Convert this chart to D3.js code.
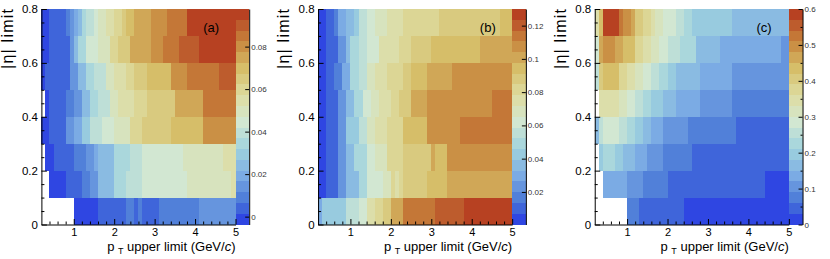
<!DOCTYPE html>
<html>
<head>
<meta charset="utf-8">
<script src="https://cdn.jsdelivr.net/npm/d3@7"></script>
<style>
body { margin: 0; background: #fff; }
text { font-family: "Liberation Sans", Arial, Helvetica, sans-serif; }
</style>
</head>
<body>
<svg id="chart" width="830" height="259"></svg>
<script>
////////////////////////////////////////////////////////////
// DATA
////////////////////////////////////////////////////////////
var etaEdges = [0, 0.1, 0.2, 0.3, 0.4, 0.5, 0.6, 0.7, 0.8];
var xTickLabels = [1, 2, 3, 4, 5];
var yTickLabels = [0, 0.2, 0.4, 0.6, 0.8];
var panelLabels = ["(a)", "(b)", "(c)"];

// z ranges of the three colour bars
var zRangeA = [-0.0037, 0.0977];
var zRangeB = [0.0004, 0.1300];
var zRangeC = [0, 0.6];
var zTicksA = [0, 0.02, 0.04, 0.06, 0.08];
var zTicksB = [0.02, 0.04, 0.06, 0.08, 0.1, 0.12];
var zTicksC = [0, 0.1, 0.2, 0.3, 0.4, 0.5, 0.6];

// cells per eta row (row 0 = 0-0.1): [pT from, pT to, value]
var cellsA = [
  [[1.0,1.6,-0.0012],[1.6,2.3,0.0039],[2.3,2.5,0.0090],[2.5,2.6,0.0039],[2.6,2.7,0.0090],[2.7,3.1,0.0039],[3.1,4.1,0.0090],[4.1,5.0,0.0140]],
  [[0.4,0.8,-0.0012],[0.8,1.2,0.0039],[1.2,1.4,0.0090],[1.4,1.6,0.0140],[1.6,2.0,0.0242],[2.0,2.3,0.0343],[2.3,2.7,0.0394],[2.7,3.8,0.0445],[3.8,4.9,0.0496],[4.9,5.0,0.0546]],
  [[0.3,0.5,-0.0012],[0.5,1.0,0.0039],[1.0,1.3,0.0090],[1.3,1.5,0.0140],[1.5,1.6,0.0191],[1.6,2.0,0.0242],[2.0,2.4,0.0343],[2.4,2.7,0.0394],[2.7,3.7,0.0445],[3.7,4.7,0.0496],[4.7,5.0,0.0546]],
  [[0.2,0.4,-0.0012],[0.4,0.8,0.0039],[0.8,1.0,0.0140],[1.0,1.2,0.0191],[1.2,1.4,0.0293],[1.4,1.7,0.0394],[1.7,2.0,0.0445],[2.0,2.4,0.0496],[2.4,2.7,0.0597],[2.7,3.4,0.0648],[3.4,4.2,0.0699],[4.2,5.0,0.0800]],
  [[0.3,0.4,-0.0012],[0.4,0.8,0.0039],[0.8,1.0,0.0090],[1.0,1.2,0.0140],[1.2,1.4,0.0242],[1.4,1.6,0.0343],[1.6,1.9,0.0394],[1.9,2.1,0.0496],[2.1,2.5,0.0546],[2.5,2.8,0.0597],[2.8,3.5,0.0648],[3.5,4.2,0.0749],[4.2,5.0,0.0851]],
  [[0.2,0.3,-0.0012],[0.3,0.9,0.0039],[0.9,1.1,0.0140],[1.1,1.3,0.0242],[1.3,1.5,0.0343],[1.5,1.8,0.0394],[1.8,2.0,0.0496],[2.0,2.3,0.0546],[2.3,2.5,0.0597],[2.5,2.8,0.0648],[2.8,3.4,0.0699],[3.4,3.8,0.0800],[3.8,4.6,0.0851],[4.6,5.0,0.0902]],
  [[0.2,0.4,-0.0012],[0.4,0.9,0.0039],[0.9,1.0,0.0140],[1.0,1.1,0.0242],[1.1,1.3,0.0343],[1.3,1.6,0.0445],[1.6,1.9,0.0496],[1.9,2.1,0.0597],[2.1,2.4,0.0648],[2.4,2.9,0.0749],[2.9,3.2,0.0800],[3.2,3.6,0.0851],[3.6,4.1,0.0902],[4.1,5.0,0.0952]],
  [[0.2,0.4,-0.0012],[0.4,0.8,0.0039],[0.8,0.9,0.0090],[0.9,1.0,0.0140],[1.0,1.1,0.0191],[1.1,1.2,0.0242],[1.2,1.3,0.0343],[1.3,1.5,0.0394],[1.5,1.6,0.0445],[1.6,1.8,0.0496],[1.8,2.0,0.0546],[2.0,2.2,0.0597],[2.2,2.3,0.0648],[2.3,2.5,0.0699],[2.5,2.9,0.0749],[2.9,3.3,0.0800],[3.3,3.8,0.0851],[3.8,5.0,0.0952]]
];

var cellsB = [
  [[0.2,0.3,0.0296],[0.3,0.9,0.0425],[0.9,1.2,0.0555],[1.2,1.4,0.0620],[1.4,1.6,0.0749],[1.6,1.8,0.0814],[1.8,2.0,0.0879],[2.0,2.3,0.1008],[2.3,3.1,0.1138],[3.1,3.8,0.1203],[3.8,5.0,0.1268]],
  [[0.2,0.4,0.0036],[0.4,0.7,0.0101],[0.7,0.9,0.0231],[0.9,1.2,0.0360],[1.2,1.4,0.0490],[1.4,1.8,0.0620],[1.8,2.0,0.0684],[2.0,2.1,0.0814],[2.1,2.2,0.0749],[2.2,2.3,0.0814],[2.3,2.9,0.0879],[2.9,3.4,0.0944],[3.4,5.0,0.1008]],
  [[0.2,0.4,0.0036],[0.4,0.7,0.0101],[0.7,0.9,0.0231],[0.9,1.1,0.0360],[1.1,1.4,0.0490],[1.4,1.6,0.0620],[1.6,1.9,0.0684],[1.9,2.3,0.0814],[2.3,3.0,0.0879],[3.0,3.1,0.1008],[3.1,3.4,0.0944],[3.4,5.0,0.1073]],
  [[0.2,0.4,0.0036],[0.4,0.7,0.0101],[0.7,0.9,0.0231],[0.9,1.2,0.0425],[1.2,1.4,0.0555],[1.4,1.6,0.0684],[1.6,1.9,0.0749],[1.9,2.3,0.0814],[2.3,2.9,0.0944],[2.9,3.7,0.1073],[3.7,5.0,0.1138]],
  [[0.2,0.4,0.0036],[0.4,0.7,0.0101],[0.7,0.9,0.0231],[0.9,1.1,0.0360],[1.1,1.3,0.0490],[1.3,1.5,0.0620],[1.5,1.7,0.0684],[1.7,2.0,0.0749],[2.0,2.2,0.0814],[2.2,2.5,0.0879],[2.5,2.9,0.1008],[2.9,4.5,0.1073],[4.5,5.0,0.1138]],
  [[0.2,0.4,0.0036],[0.4,0.6,0.0101],[0.6,0.8,0.0166],[0.8,1.0,0.0296],[1.0,1.2,0.0490],[1.2,1.4,0.0555],[1.4,1.6,0.0684],[1.6,1.9,0.0749],[1.9,2.3,0.0814],[2.3,2.5,0.0879],[2.5,2.9,0.0944],[2.9,3.5,0.1008],[3.5,5.0,0.1073]],
  [[0.2,0.4,0.0036],[0.4,0.7,0.0101],[0.7,0.9,0.0231],[0.9,1.0,0.0360],[1.0,1.2,0.0490],[1.2,1.4,0.0555],[1.4,1.7,0.0620],[1.7,2.2,0.0749],[2.2,2.5,0.0814],[2.5,3.0,0.0879],[3.0,4.2,0.0944],[4.2,5.0,0.1008]],
  [[0.2,0.4,0.0036],[0.4,0.6,0.0101],[0.6,0.7,0.0166],[0.7,0.9,0.0296],[0.9,1.1,0.0360],[1.1,1.2,0.0425],[1.2,1.4,0.0555],[1.4,1.6,0.0620],[1.6,1.9,0.0684],[1.9,2.3,0.0749],[2.3,3.2,0.0814],[3.2,4.7,0.0879],[4.7,5.0,0.0944]]
];

var cellsC = [
  [[1.0,1.3,0.075],[1.3,2.4,0.045],[2.4,5.0,0.015]],
  [[0.4,1.0,0.135],[1.0,1.4,0.105],[1.4,2.0,0.075],[2.0,4.4,0.045],[4.4,5.0,0.015]],
  [[0.3,0.4,0.195],[0.4,0.7,0.225],[0.7,0.9,0.195],[0.9,1.2,0.165],[1.2,1.5,0.135],[1.5,1.9,0.105],[1.9,2.6,0.075],[2.6,5.0,0.045]],
  [[0.2,0.3,0.165],[0.3,0.4,0.255],[0.4,0.8,0.285],[0.8,1.0,0.255],[1.0,1.2,0.225],[1.2,1.4,0.195],[1.4,1.6,0.165],[1.6,1.9,0.135],[1.9,2.5,0.105],[2.5,3.7,0.075],[3.7,5.0,0.045]],
  [[0.3,0.8,0.345],[0.8,1.0,0.315],[1.0,1.2,0.285],[1.2,1.4,0.255],[1.4,1.6,0.225],[1.6,1.9,0.195],[1.9,2.2,0.165],[2.2,2.8,0.135],[2.8,3.6,0.105],[3.6,5.0,0.075]],
  [[0.2,0.3,0.255],[0.3,0.4,0.405],[0.4,0.8,0.435],[0.8,1.0,0.375],[1.0,1.2,0.345],[1.2,1.4,0.315],[1.4,1.6,0.285],[1.6,1.8,0.255],[1.8,2.0,0.225],[2.0,2.2,0.195],[2.2,2.8,0.165],[2.8,3.6,0.135],[3.6,5.0,0.105]],
  [[0.2,0.3,0.285],[0.3,0.4,0.465],[0.4,0.7,0.495],[0.7,0.9,0.465],[0.9,1.2,0.435],[1.2,1.4,0.375],[1.4,1.6,0.345],[1.6,1.8,0.315],[1.8,2.0,0.285],[2.0,2.3,0.255],[2.3,2.7,0.225],[2.7,3.3,0.165],[3.3,4.8,0.135],[4.8,5.0,0.105]],
  [[0.2,0.3,0.345],[0.3,0.4,0.435],[0.4,0.8,0.585],[0.8,0.9,0.525],[0.9,1.1,0.495],[1.1,1.2,0.465],[1.2,1.4,0.405],[1.4,1.6,0.375],[1.6,1.7,0.345],[1.7,1.9,0.315],[1.9,2.2,0.285],[2.2,2.4,0.255],[2.4,2.6,0.225],[2.6,3.6,0.195],[3.6,5.0,0.165]]
];

// light temperature palette (ROOT), 20 contours
var paletteStops = [0, 0.125, 0.25, 0.375, 0.5, 0.625, 0.75, 0.875, 1];
var paletteColors = ["rgb(31,40,234)", "rgb(71,117,214)", "rgb(123,171,228)", "rgb(160,211,222)",
                     "rgb(210,231,210)", "rgb(222,220,160)", "rgb(214,190,105)", "rgb(199,132,60)", "rgb(183,65,34)"];
var nContours = 20;

////////////////////////////////////////////////////////////
// LAYOUT
////////////////////////////////////////////////////////////
var padWidth = 830 / 3;
var frameLeft = 41.4;
var frameRight = 235.5;
var frameTop = 9;
var frameBottom = 224.5;
var barRight = 249.2;

var palette = d3.scaleLinear().domain(paletteStops).range(paletteColors);

function contourColor(i) {
    return palette((i + 0.99) / nContours);
}

var svg = d3.select("#chart");

drawPanel(0, cellsA, zRangeA, zTicksA, [], panelLabels[0]);
drawPanel(1, cellsB, zRangeB, zTicksB, [], panelLabels[1]);
drawPanel(2, cellsC, zRangeC, zTicksC, [0.05, 0.15, 0.25, 0.35, 0.45, 0.55], panelLabels[2]);

function drawPanel(index, cells, zRange, zTicks, zMinor, label) {
    var g = svg.append("g")
        .attr("transform", "translate(" + (index * padWidth) + ",0)");

    var x = d3.scaleLinear().domain([0.2, 5]).range([frameLeft, frameRight]);
    var y = d3.scaleLinear().domain([0, 0.8]).range([frameBottom, frameTop]);
    var zy = d3.scaleLinear().domain(zRange).range([frameBottom, frameTop]);
    var zLevel = d3.scaleLinear().domain(zRange).range([0, nContours]);

    function levelOf(v) {
        return Math.max(0, Math.min(nContours - 1, Math.floor(zLevel(v))));
    }

    // heat map cells
    cells.forEach(function(row, i) {
        g.append("g")
            .selectAll("rect")
            .data(row)
            .enter().append("rect")
            .attr("x", function(d) { return x(d[0]); })
            .attr("width", function(d) { return x(d[1]) - x(d[0]); })
            .attr("y", y(etaEdges[i + 1]))
            .attr("height", y(etaEdges[i]) - y(etaEdges[i + 1]))
            .attr("fill", function(d) { return contourColor(levelOf(d[2])); })
            .attr("shape-rendering", "crispEdges");
    });

    // colour bar
    var step = (zRange[1] - zRange[0]) / nContours;
    g.append("g")
        .selectAll("rect")
        .data(d3.range(nContours))
        .enter().append("rect")
        .attr("x", frameRight)
        .attr("width", barRight - frameRight)
        .attr("y", function(i) { return zy(zRange[0] + (i + 1) * step); })
        .attr("height", function(i) { return zy(zRange[0] + i * step) - zy(zRange[0] + (i + 1) * step); })
        .attr("fill", function(i) { return contourColor(i); })
        .attr("shape-rendering", "crispEdges");

    var zAxis = g.append("g")
        .attr("transform", "translate(" + barRight + ",0)")
        .call(d3.axisRight(zy)
            .tickValues(zTicks)
            .tickSize(-4)
            .tickSizeOuter(0)
            .tickPadding(2)
            .tickFormat(function(d) { return String(d); }));
    zAxis.selectAll("text").attr("font-size", 8).attr("fill", "#333")
        .style("font-family", "'Liberation Sans', Arial, sans-serif");
    zAxis.select(".domain").attr("stroke-width", 1);

    if (zMinor.length) {
        g.append("g")
            .attr("transform", "translate(" + barRight + ",0)")
            .call(d3.axisRight(zy).tickValues(zMinor).tickSize(-2).tickFormat(""))
            .select(".domain").remove();
    }

    // x axis
    var xMinor = d3.range(0.4, 5, 0.2).filter(function(v) { return Math.abs(v - Math.round(v)) > 0.01; });
    var xAxis = g.append("g")
        .attr("transform", "translate(0," + frameBottom + ")")
        .call(d3.axisBottom(x)
            .tickValues(xTickLabels)
            .tickSize(-5.5)
            .tickSizeOuter(0)
            .tickPadding(4)
            .tickFormat(d3.format("d")));
    xAxis.selectAll("text").attr("font-size", 11).attr("fill", "#000")
        .style("font-family", "'Liberation Sans', Arial, sans-serif");
    g.append("g")
        .attr("transform", "translate(0," + frameBottom + ")")
        .call(d3.axisBottom(x).tickValues(xMinor).tickSize(-3).tickFormat(""))
        .select(".domain").remove();

    // y axis
    var yMinor = d3.range(0.05, 0.8, 0.05).filter(function(v) { return Math.abs(v / 0.2 - Math.round(v / 0.2)) > 0.01; });
    var yAxis = g.append("g")
        .attr("transform", "translate(" + frameLeft + ",0)")
        .call(d3.axisLeft(y)
            .tickValues(yTickLabels)
            .tickSize(-5.5)
            .tickSizeOuter(0)
            .tickPadding(3.5)
            .tickFormat(function(d) { return String(d); }));
    yAxis.selectAll("text").attr("font-size", 11.5).attr("fill", "#000")
        .style("font-family", "'Liberation Sans', Arial, sans-serif");
    g.append("g")
        .attr("transform", "translate(" + frameLeft + ",0)")
        .call(d3.axisLeft(y).tickValues(yMinor).tickSize(-3).tickFormat(""))
        .select(".domain").remove();

    // axis titles
    var xt = g.append("text")
        .attr("x", frameRight)
        .attr("y", 250.6)
        .attr("text-anchor", "end")
        .attr("font-size", 13)
        .attr("fill", "#000");
    xt.append("tspan").text("p");
    xt.append("tspan").attr("font-size", 9).attr("dx", 3.5).attr("dy", 3.2).text("T");
    xt.append("tspan").attr("dy", -3.2).text(" upper limit (GeV/");
    xt.append("tspan").attr("font-style", "italic").text("c");
    xt.append("tspan").text(")");

    g.append("text")
        .attr("transform", "translate(12.5," + frameTop + ") rotate(-90)")
        .attr("text-anchor", "end")
        .attr("font-size", 16)
        .attr("textLength", 60)
        .attr("lengthAdjust", "spacing")
        .attr("fill", "#000")
        .text("|\u03b7| limit");

    // panel label
    g.append("text")
        .attr("x", frameLeft + 161.8)
        .attr("y", 32.3)
        .attr("font-size", 13)
        .attr("fill", "#000")
        .text(label);
}
</script>
</body>
</html>
